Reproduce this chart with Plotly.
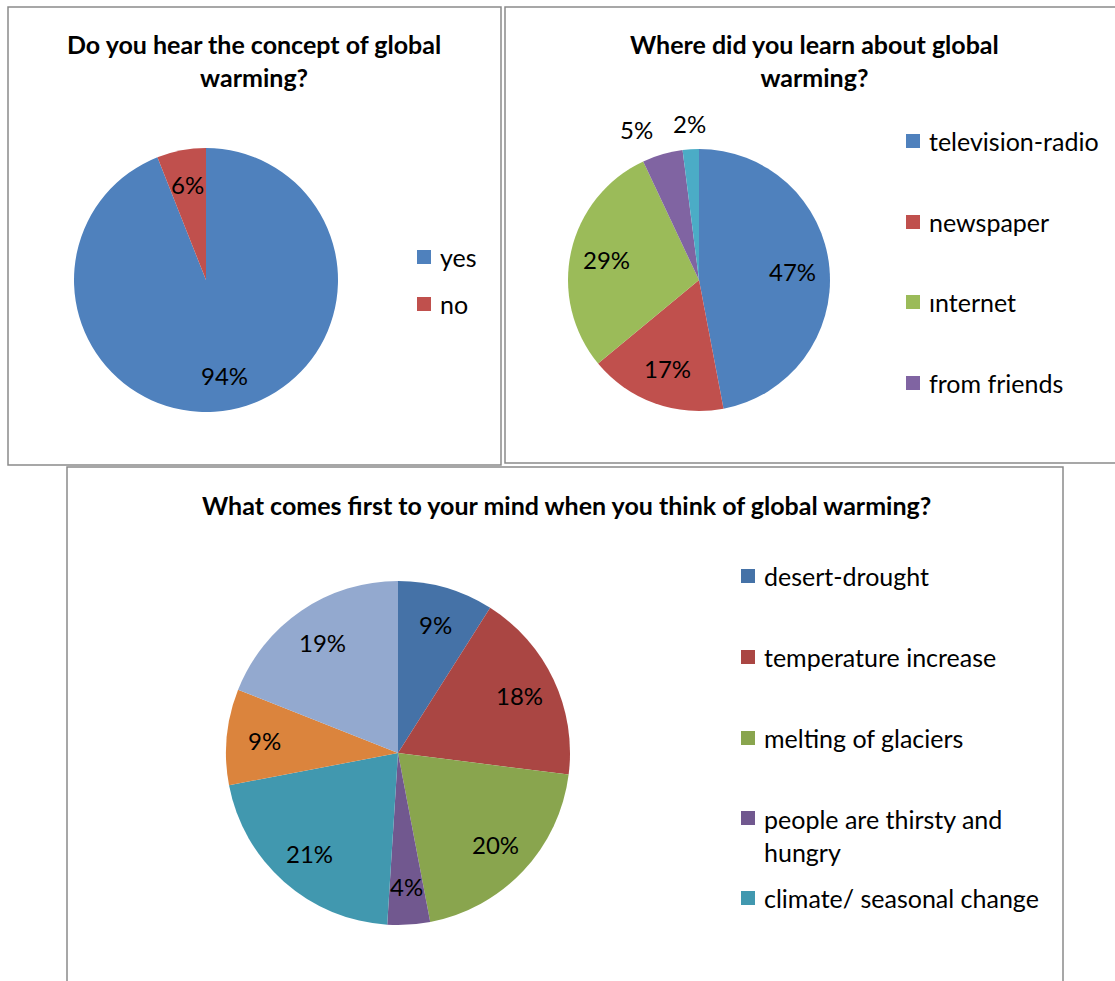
import math
import plotly.graph_objects as go

W, H = 1115, 981
FONT = "Lato"

# ---------------- data ----------------
q1_title = "Do you hear the concept of global<br>warming?"
q1_labels = ["yes", "no"]
q1_values = [94, 6]
q1_colors = ["#4F81BD", "#C0504D"]

q2_title = "Where did you learn about global<br>warming?"
q2_labels = ["television-radio", "newspaper", "ınternet", "from friends", "other sources"]
q2_values = [47, 17, 29, 5, 2]
q2_colors = ["#4F81BD", "#C0504D", "#9BBB59", "#8064A2", "#4BACC6"]
q2_legend_shown = 4

q3_title = "What comes first to your mind when you think of global warming?"
q3_labels = ["desert-drought", "temperature increase", "melting of glaciers",
             "people are thirsty and<br>hungry", "climate/ seasonal change",
             "answer 6", "answer 7"]
q3_values = [9, 18, 20, 4, 21, 9, 19]
q3_colors = ["#4572A7", "#AA4643", "#89A54E", "#71588F", "#4198AF", "#DB843D", "#93A9CF"]
q3_legend_shown = 5


def px(x):
    return x / W


def py(y):
    return 1 - y / H


fig = go.Figure()
shapes = []
annotations = []


def add_pie(labels, values, colors, cx, cy, r, inside_frac, outside_frac, outside_set):
    fig.add_trace(go.Pie(
        labels=labels, values=values, sort=False, direction="clockwise", rotation=0,
        marker=dict(colors=colors, line=dict(width=0)),
        textinfo="none",
        domain=dict(x=[px(cx - r), px(cx + r)], y=[py(cy + r), py(cy - r)]),
        showlegend=False, hoverinfo="label+percent",
    ))
    # data labels, placed at each slice's mid-angle
    total = float(sum(values))
    cum = 0.0
    for i, v in enumerate(values):
        mid = (cum + v / 2) / total * 2 * math.pi
        cum += v
        outside = i in outside_set
        frac = outside_frac if outside else inside_frac
        x = cx + math.sin(mid) * r * frac
        y = cy - math.cos(mid) * r * frac
        anchor = "center"
        if outside and math.sin(mid) < -0.15:
            anchor = "right"
        elif outside and math.sin(mid) > 0.15:
            anchor = "left"
        annotations.append(dict(text="%d%%" % round(v / total * 100), xref="paper", yref="paper",
                                x=px(x), y=py(y), xanchor=anchor, yanchor="middle",
                                showarrow=False,
                                font=dict(family=FONT, size=24, color="black")))


def add_legend(labels, colors, n, x0, size, ys):
    for i in range(n):
        y = ys[i]
        shapes.append(dict(type="rect", xref="paper", yref="paper",
                           x0=px(x0), x1=px(x0 + size), y0=py(y + size / 2), y1=py(y - size / 2),
                           fillcolor=colors[i], line=dict(width=0)))
        multi = "<br>" in labels[i]
        annotations.append(dict(text=labels[i], xref="paper", yref="paper",
                                x=px(x0 + size + 7), y=py(y - 16) if multi else py(y),
                                xanchor="left", yanchor="top" if multi else "middle",
                                showarrow=False, align="left",
                                font=dict(family=FONT, size=25, color="black")))


def add_title(text, cx, cy):
    annotations.append(dict(text="<b>" + text + "</b>", xref="paper", yref="paper",
                            x=px(cx), y=py(cy), xanchor="center", yanchor="middle",
                            showarrow=False, align="center",
                            font=dict(family=FONT, size=25, color="black")))


def add_box(x0, y0, x1, y1):
    shapes.append(dict(type="rect", xref="paper", yref="paper",
                       x0=px(x0), x1=px(x1), y0=py(y1), y1=py(y0),
                       line=dict(color="#8a8a8a", width=1.5), fillcolor="rgba(0,0,0,0)"))


# boxes
add_box(8, 7, 501, 465)
add_box(505, 7, 1125, 463)
add_box(67, 467, 1063, 995)

# chart 1
add_pie(q1_labels, q1_values, q1_colors, 206, 280, 132, 0.74, 1.2, set())
add_title(q1_title, 254, 61)
add_legend(q1_labels, q1_colors, len(q1_labels), 417, 14, [257, 304])

# chart 2
add_pie(q2_labels, q2_values, q2_colors, 699, 280, 131, 0.72, 1.2, {3, 4})
add_title(q2_title, 814, 61)
add_legend(q2_labels, q2_colors, q2_legend_shown, 906, 14, [141, 222, 302, 383])

# chart 3
add_pie(q3_labels, q3_values, q3_colors, 398, 753, 172, 0.78, 1.2, set())
add_title(q3_title, 566, 505)
add_legend(q3_labels, q3_colors, q3_legend_shown, 741, 14, [576, 657, 738, 818, 898])

fig.update_layout(
    width=W, height=H,
    margin=dict(l=0, r=0, t=0, b=0),
    paper_bgcolor="white", plot_bgcolor="white",
    shapes=shapes, annotations=annotations,
    font=dict(family=FONT),
)

fig.write_html("out.html")
